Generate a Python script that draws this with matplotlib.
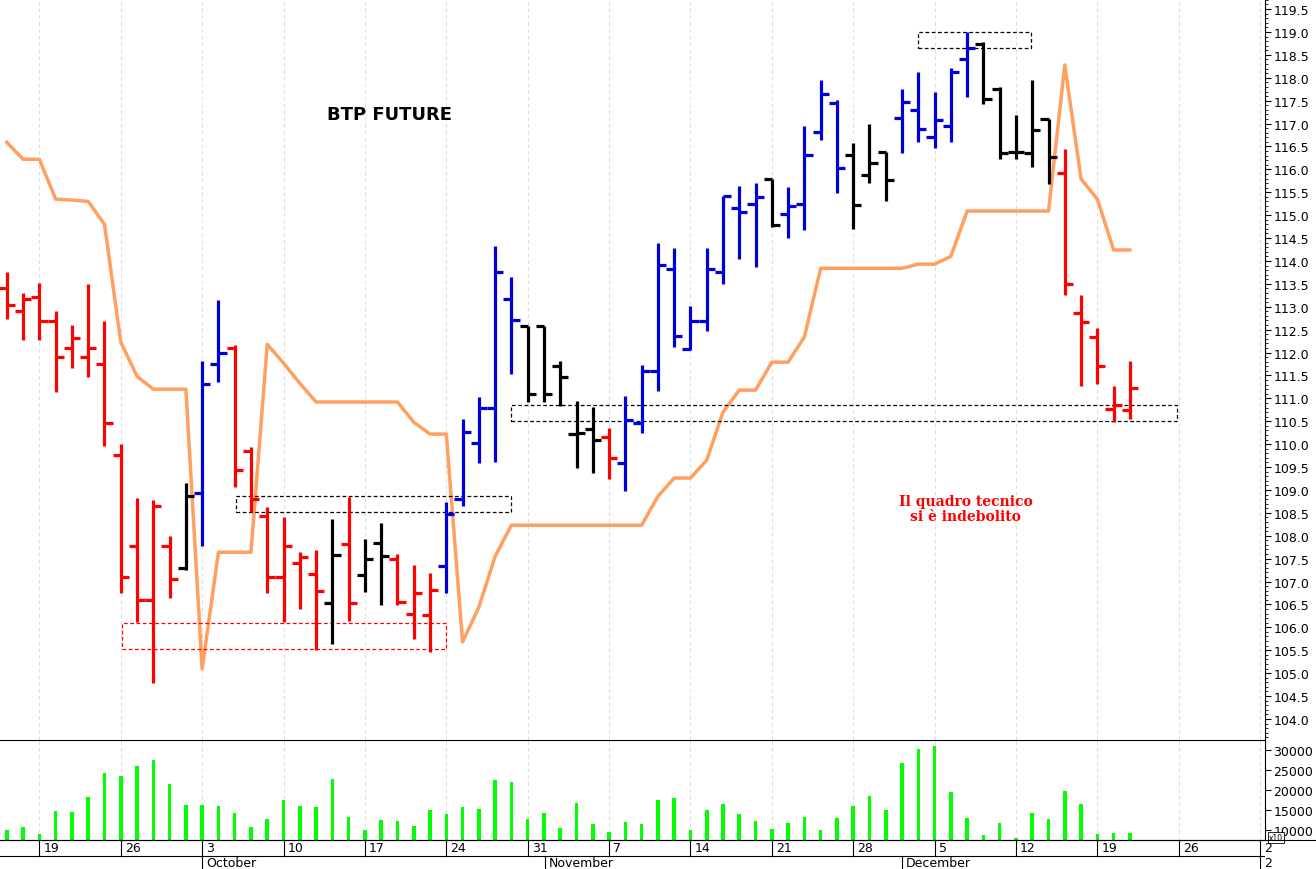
import matplotlib
matplotlib.use("Agg")
import matplotlib.pyplot as plt
import numpy as np
from matplotlib.patches import Rectangle

# trading days, index 0 = Mon 19 Sep
days = np.arange(-2, 68)
opens = [113.40, 112.90, 113.22, 112.68, 112.09, 111.91, 111.75, 109.76, 107.78, 106.59, 107.78, 107.29,
         108.94, 111.76, 112.11, 109.84, 108.43, 107.09, 107.40, 107.16, 106.53, 107.81, 107.14, 107.84,
         107.50, 106.29, 106.27, 107.34, 108.80, 110.02, 110.80, 113.17, 112.57, 112.57, 111.71, 110.22,
         110.34, 110.15, 109.58, 110.47, 111.60, 113.82, 112.07, 112.68, 113.75, 115.15, 115.24, 115.80,
         115.02, 115.24, 116.81, 117.45, 116.31, 115.88, 116.37, 117.12, 117.30, 116.70, 116.94, 118.42,
         118.73, 117.75, 116.39, 116.35, 117.10, 115.92, 112.86, 112.35, 110.76, 110.75]
highs = [113.75, 113.31, 113.51, 112.91, 112.60, 113.49, 112.69, 110.01, 108.82, 108.78, 108.00, 109.16,
         111.82, 113.15, 112.16, 109.94, 108.62, 108.40, 107.64, 107.69, 108.36, 108.84, 107.93, 108.27,
         107.60, 107.36, 107.18, 108.73, 110.56, 111.04, 114.33, 113.66, 112.57, 112.57, 111.82, 110.95,
         110.82, 110.36, 111.05, 111.72, 114.39, 114.28, 113.02, 114.28, 115.41, 115.64, 115.70, 115.80,
         115.62, 116.95, 117.95, 117.51, 116.57, 116.98, 116.37, 117.75, 118.12, 117.68, 118.22, 118.99,
         118.78, 117.80, 117.19, 117.95, 117.11, 116.44, 113.25, 112.53, 111.26, 111.82]
lows = [112.74, 112.28, 112.28, 111.14, 111.66, 111.47, 109.95, 106.76, 106.11, 104.78, 106.63, 107.26,
        107.77, 111.35, 109.07, 108.51, 106.76, 106.11, 106.41, 105.51, 105.63, 106.14, 106.78, 106.49,
        106.49, 105.74, 105.47, 106.76, 108.64, 109.59, 109.61, 111.53, 110.91, 110.91, 110.84, 109.49,
        109.38, 109.24, 108.98, 110.25, 111.15, 112.12, 112.05, 112.46, 113.49, 114.05, 113.86, 114.75,
        114.50, 114.67, 116.64, 115.48, 114.69, 115.71, 115.31, 116.35, 116.59, 116.46, 116.59, 117.59,
        117.42, 116.22, 116.22, 116.05, 115.68, 113.25, 111.26, 111.31, 110.49, 110.56]
closes = [113.04, 113.17, 112.68, 111.91, 112.31, 112.11, 110.47, 107.09, 106.59, 108.64, 107.05, 108.86,
          111.32, 112.00, 109.44, 108.80, 107.09, 107.78, 107.53, 106.80, 107.58, 106.54, 107.49, 107.56,
          106.56, 106.76, 106.82, 108.47, 110.27, 110.80, 113.76, 112.71, 111.09, 111.09, 111.46, 110.25,
          110.09, 109.69, 110.52, 111.60, 113.91, 112.36, 112.69, 113.82, 115.41, 115.06, 115.39, 114.79,
          115.19, 116.31, 117.64, 116.02, 115.22, 116.14, 115.76, 117.47, 116.88, 117.08, 118.13, 118.64,
          117.53, 116.35, 116.38, 116.86, 116.28, 113.49, 112.67, 111.70, 110.85, 111.22]
bar_kind = "rrrrrrrrrrrkbbrrrrrrkrkkrrrbbbbbkkkkkrbbbbbbbbbkbbbbkkkbbbbbkkkkkrrrrr"
volumes = [10075, 10825, 9000, 14675, 14425, 18250, 24325, 23425, 26000, 27500, 21425, 16325, 16325, 16000,
           14175, 10825, 12750, 17575, 16000, 15675, 22675, 13250, 10075, 12425, 12175, 11000, 14925, 14000,
           15675, 15175, 22500, 21925, 12750, 14175, 10575, 16675, 11500, 9575, 11925, 11500, 17575, 17925,
           10000, 15075, 16425, 13925, 12175, 10250, 11675, 13175, 10000, 12925, 16075, 18425, 15075, 26675,
           30250, 30925, 19425, 12925, 8825, 11675, 7925, 14175, 12675, 19825, 16575, 8925, 9325, 9175]
stop_line = [116.59, 116.22, 116.22, 115.35, 115.33, 115.30, 114.80, 112.23, 111.48, 111.20, 111.20, 111.20,
             105.09, 107.64, 107.64, 107.64, 112.18, 111.77, 111.33, 110.92, 110.92, 110.92, 110.92, 110.92,
             110.92, 110.48, 110.22, 110.22, 105.68, 106.44, 107.55, 108.23, 108.23, 108.23, 108.23, 108.23,
             108.23, 108.23, 108.23, 108.23, 108.86, 109.26, 109.26, 109.65, 110.70, 111.18, 111.18, 111.79,
             111.79, 112.34, 113.84, 113.84, 113.84, 113.84, 113.84, 113.84, 113.93, 113.93, 114.10, 115.09,
             115.09, 115.09, 115.09, 115.09, 115.09, 118.28, 115.79, 115.35, 114.24, 114.24]
week_labels = ["19", "26", "3", "10", "17", "24", "31", "7", "14", "21", "28", "5", "12", "19", "26", "2"]
months = [(10, "October"), (31.05, "November"), (53, "December"), (75, "2")]
# (day from, day to, price low, price high, colour)
boxes = [(12.08, 29.0, 108.52, 108.86, "black"), (5.08, 25.0, 105.52, 106.09, "red"),
         (29.0, 69.9, 110.50, 110.85, "black"), (54.0, 60.9, 118.65, 118.99, "black")]

colors = {"r": "#ff0000", "k": "#000000", "b": "#0000dd"}
xmin, xmax = -2.42, 75.3
W, H = 1316, 870
fig = plt.figure(figsize=(W / 100, H / 100), dpi=100)
axr = 1265 / W
ax = fig.add_axes([0, 1 - 741 / H, axr, 741 / H])
axv = fig.add_axes([0, 1 - 841 / H, axr, 100 / H])
axd = fig.add_axes([0, 0, axr, 29 / H])

for d, o, h, l, c, k in zip(days, opens, highs, lows, closes, bar_kind):
    col = colors[k]
    ax.plot([d, d], [l, h], color=col, lw=2.3, solid_capstyle="butt")
    ax.plot([d - 0.5, d], [o, o], color=col, lw=2.3, solid_capstyle="butt")
    ax.plot([d, d + 0.5], [c, c], color=col, lw=2.3, solid_capstyle="butt")
ax.plot(days, stop_line, color="#ffa060", lw=2.5, zorder=1)
for x0, x1, y0, y1, col in boxes:
    ax.add_patch(Rectangle((x0, y0), x1 - x0, y1 - y0, fill=False, ls=(0, (3, 2)), lw=0.9, edgecolor=col))

ax.text(21.5, 117.2, "BTP FUTURE", fontsize=13, fontweight="bold", ha="center", va="center")
ax.text(56.9, 108.6, "Il quadro tecnico\nsi è indebolito", fontsize=10, fontweight="bold", color="red",
        ha="center", va="center", family="DejaVu Serif", linespacing=1.1)

mondays = np.arange(0, 76, 5)
for a in (ax, axv):
    a.set_xlim(xmin, xmax)
    for m in mondays:
        a.axvline(m, color="#dddddd", lw=0.7, ls=(0, (4, 3)), zorder=0)
    a.set_xticks([])
    a.yaxis.tick_right()
    a.spines["left"].set_visible(False)
    a.spines["top"].set_visible(False)
    a.tick_params(axis="y", labelsize=9, direction="out", length=4, pad=2)

ax.set_ylim(103.54, 119.72)
ax.set_yticks(np.arange(104, 119.6, 0.5))
ax.set_yticks(np.arange(103.6, 119.7, 0.1), minor=True)
ax.tick_params(axis="y", which="minor", length=2)
ax.yaxis.set_major_formatter(matplotlib.ticker.FormatStrFormatter("%.1f"))
ax.spines["bottom"].set_visible(False)

axv.bar(days, volumes, width=0.22, color="#00ff00", bottom=0)
axv.set_ylim(7500, 32500)
axv.set_yticks([10000, 15000, 20000, 25000, 30000])
axv.spines["top"].set_visible(True)
axv.text(1.003, -0.02, "x10", transform=axv.transAxes, fontsize=5.5, va="bottom",
         bbox=dict(boxstyle="square,pad=0.1", fc="white", ec="black", lw=0.6))

axd.set_xlim(xmin, xmax)
axd.set_ylim(0, 29)
axd.axis("off")
axd.axhline(13, color="black", lw=0.8)
for m, lab in zip(mondays, week_labels):
    axd.plot([m, m], [13, 29], color="black", lw=0.8)
    axd.text(m + 0.25, 21, lab, fontsize=9, va="center", ha="left")
for m, lab in months:
    axd.plot([m, m], [0, 13], color="black", lw=0.8)
    axd.text(m + 0.25, 6, lab, fontsize=9, va="center", ha="left")
fig.add_artist(plt.Line2D([0, 1], [1 - 841 / H, 1 - 841 / H], color="black", lw=0.8))

fig.savefig("out.png", dpi=100)
